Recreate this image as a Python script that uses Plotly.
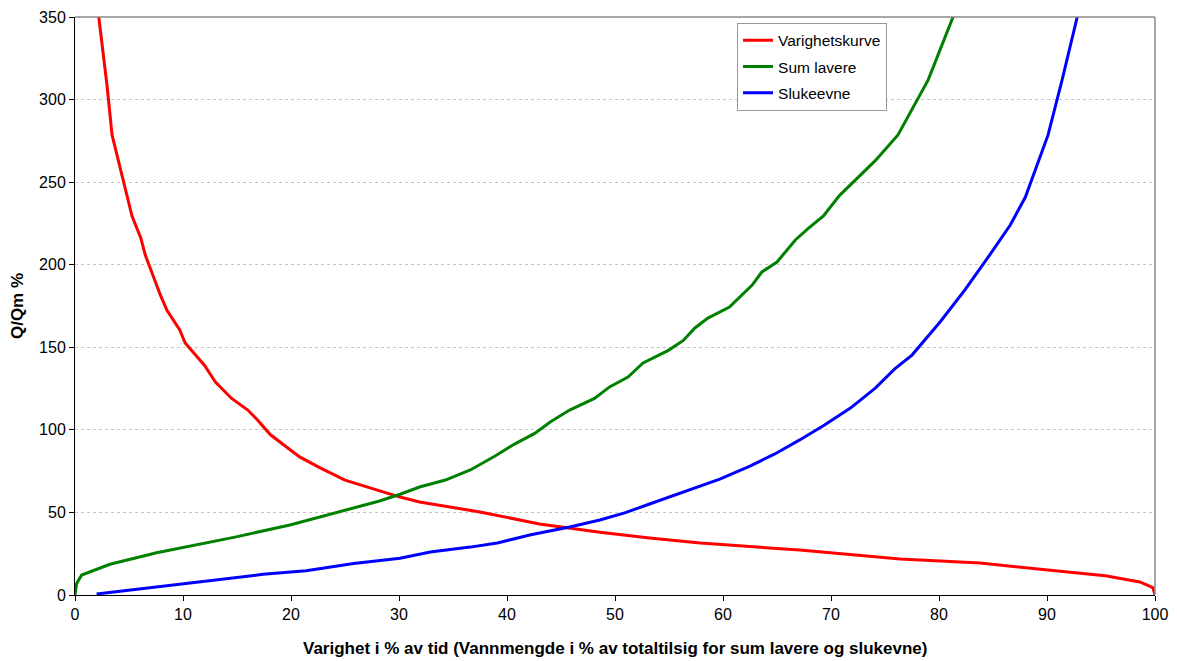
import plotly.graph_objects as go

# Varighetskurve (duration curve)
var_x = [2.2, 2.96, 3.43, 5.28, 6.1, 6.5, 7.1, 7.9, 8.5, 9.7, 10.2, 12.0, 13.0, 14.5, 16.0, 16.9, 18.1,
         20.8, 22.7, 25.0, 30.1, 31.9, 37.5, 43.0, 48.6, 53.2, 57.9, 67.1, 76.4, 83.8, 90.3, 95.4, 98.6, 99.8, 100.0]
var_y = [350, 308.8, 278.6, 229.5, 216, 206, 195.6, 181.7, 172.6, 160.5, 152.6, 139, 129, 119, 112, 106, 97,
         83.6, 77, 69.6, 59.3, 56.3, 50.3, 43, 38, 34.5, 31.5, 27.2, 21.8, 19.4, 15, 11.7, 7.9, 4.5, 0]

# Sum lavere
sum_x = [0.0, 0.15, 0.62, 3.24, 7.56, 10.3, 14.7, 19.9, 22.7, 25.8, 28.2, 30.1, 31.9, 34.3, 36.6, 38.9,
         40.7, 42.6, 44.0, 45.8, 48.1, 49.5, 51.2, 52.6, 54.9, 56.3, 57.4, 58.6, 60.6, 62.7, 63.6, 65.0,
         66.7, 67.9, 69.3, 70.8, 74.1, 76.2, 79.0, 81.3]
sum_y = [0, 7, 12.1, 18.6, 25.6, 29.3, 34.9, 42.4, 47.4, 52.5, 56.9, 61, 65.4, 69.6, 75.7, 84.2,
         91.4, 98, 104.8, 112, 119, 126, 132, 140.5, 148, 154, 161.7, 167.7, 174.4, 187.7, 195.6, 201.6,
         215, 222, 229.5, 242, 263, 278.6, 311.9, 350]

# Slukeevne
sluk_x = [2.0, 10.3, 12.2, 17.4, 21.4, 25.8, 30.1, 32.9, 36.6, 39.1, 42.1, 45.8, 48.6, 50.9, 53.2, 55.6,
          57.9, 59.7, 62.5, 64.8, 67.1, 69.4, 71.8, 74.1, 75.9, 77.5, 80.1, 82.4, 84.7, 86.6, 88.0, 90.1,
          91.4, 92.8]
sluk_y = [0.6, 6.9, 8.1, 12.5, 14.7, 19.1, 22.2, 26, 29, 31.5, 36.3, 41.2, 45.4, 49.7, 55.1, 60.6,
          66, 70.2, 78.1, 85.4, 93.9, 102.9, 113.2, 125.3, 136.9, 145.3, 165.3, 184.7, 205.9, 224, 241, 278.6,
          311.9, 350]

x_ticks = [0, 10, 20, 30, 40, 50, 60, 70, 80, 90, 100]
y_ticks = [0, 50, 100, 150, 200, 250, 300, 350]

x_title = "Varighet i % av tid (Vannmengde i % av totaltilsig for sum lavere og slukevne)"
y_title = "Q/Qm %"

FONT = "Liberation Sans, Arial, sans-serif"

fig = go.Figure()
fig.add_trace(go.Scatter(x=var_x, y=var_y, mode="lines", name="Varighetskurve",
                         line=dict(color="#FF0000", width=3), legendgroup="a"))
fig.add_trace(go.Scatter(x=sum_x, y=sum_y, mode="lines", name="Sum lavere",
                         line=dict(color="#008000", width=3), legendgroup="b"))
fig.add_trace(go.Scatter(x=sluk_x, y=sluk_y, mode="lines", name="Slukeevne",
                         line=dict(color="#0000FF", width=3), legendgroup="c"))

fig.update_layout(
    width=1161, height=653,
    margin=dict(l=67, r=14, t=9, b=66, autoexpand=False),
    paper_bgcolor="white", plot_bgcolor="white",
    font=dict(family=FONT, size=16, color="#000000"),
    showlegend=True,
    legend=dict(x=0.613, y=0.99, xanchor="left", yanchor="top",
                bgcolor="white", bordercolor="#999999", borderwidth=1,
                font=dict(family=FONT, size=15.5, color="#000000"),
                tracegroupgap=3, itemwidth=30),
    xaxis=dict(range=[0, 100], tickvals=x_ticks, ticktext=[str(v) for v in x_ticks],
               showgrid=False, zeroline=False, automargin=False,
               showline=True, linecolor="#000000", linewidth=1,
               ticks="outside", ticklen=5, tickcolor="#000000",
               tickfont=dict(size=16)),
    yaxis=dict(range=[0, 350], tickvals=y_ticks, ticktext=[str(v) for v in y_ticks],
               showgrid=True, gridcolor="#C4C4C4", griddash="dot", gridwidth=1,
               zeroline=False, automargin=False,
               showline=True, linecolor="#000000", linewidth=1,
               ticks="outside", ticklen=5, tickcolor="#000000",
               tickfont=dict(size=16),
               title=dict(text="<b>" + y_title + "</b>", font=dict(size=17), standoff=14)),
    annotations=[
        dict(text="<b>" + x_title + "</b>", xref="paper", yref="paper",
             x=0.5, y=-0.0917, xanchor="center", yanchor="middle",
             showarrow=False, font=dict(family=FONT, size=17, color="#000000")),
    ],
    shapes=[
        dict(type="line", xref="paper", yref="paper", x0=0, x1=1, y0=1, y1=1,
             line=dict(color="#888888", width=1.5)),
        dict(type="line", xref="paper", yref="paper", x0=1, x1=1, y0=0, y1=1,
             line=dict(color="#888888", width=1.5)),
    ],
)

fig.write_html("out.html")
